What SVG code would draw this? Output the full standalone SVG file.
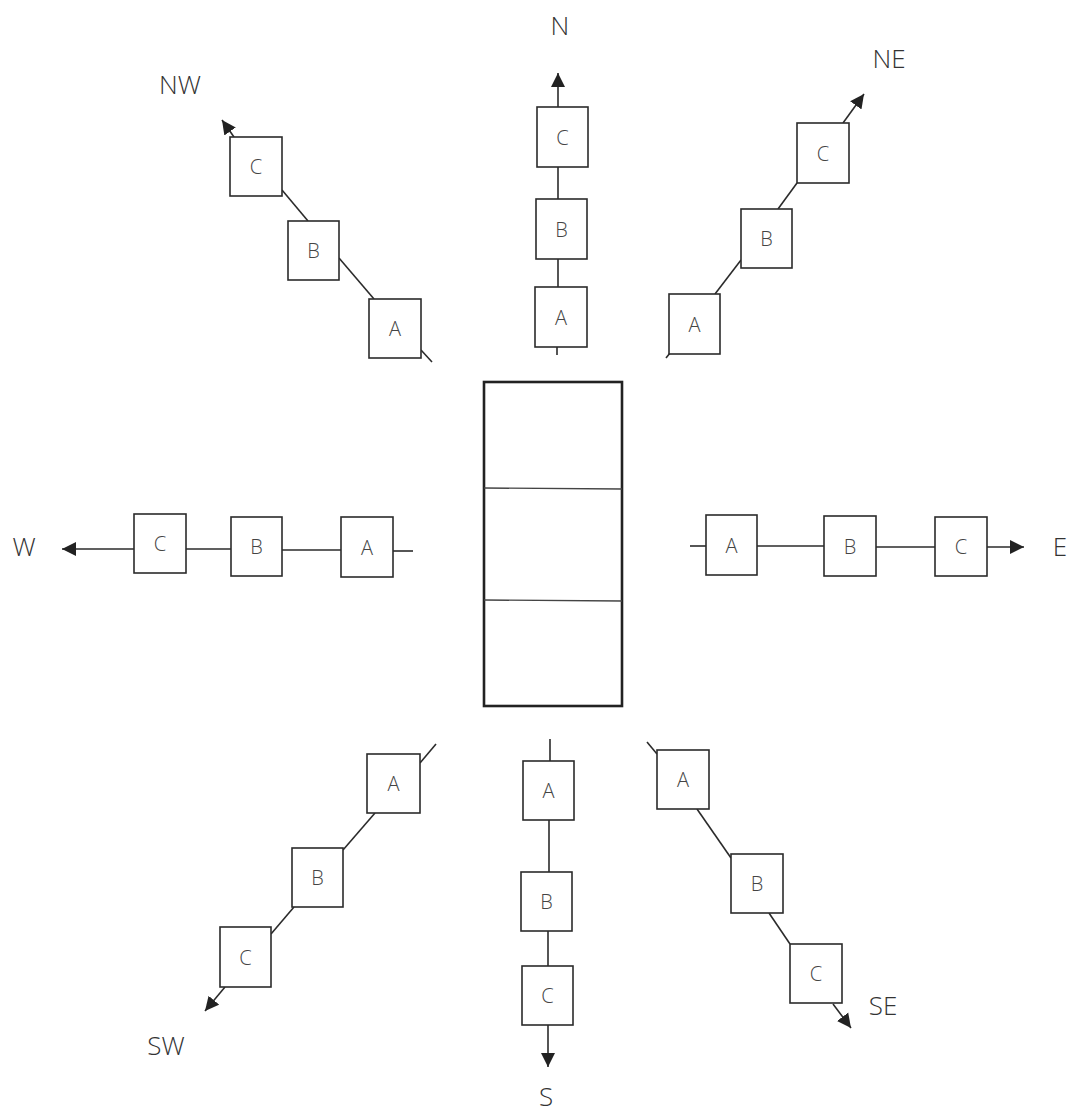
<svg xmlns="http://www.w3.org/2000/svg" width="1067" height="1114" viewBox="0 0 1067 1114">
<defs>
<style>
.box{fill:#fff;stroke:#2b2b2b;stroke-width:1.6}
.lbl{font-family:"Open Sans","Liberation Sans",sans-serif;font-weight:300;font-size:20px;fill:#444;text-anchor:middle;dominant-baseline:central}
.dir{font-family:"Open Sans","Liberation Sans",sans-serif;font-weight:300;font-size:26px;fill:#333;text-anchor:middle}
.ln{stroke:#2b2b2b;stroke-width:1.6;fill:none}
.arr{stroke:#2b2b2b;stroke-width:1.6;fill:none;marker-end:url(#ah)}
.core{fill:#fff;stroke:#222;stroke-width:2.6}
.div{stroke:#444;stroke-width:1.4}
</style>
<marker id="ah" markerUnits="userSpaceOnUse" markerWidth="15" markerHeight="15" refX="14" refY="7" orient="auto" viewBox="0 0 15 14">
<path d="M0,0 L14,7 L0,14 z" fill="#222"/>
</marker>
</defs>
<rect width="1067" height="1114" fill="#fff"/>

<g id="connectors">
<!-- N -->
<line class="ln" x1="557" y1="355" x2="557" y2="347"/>
<line class="ln" x1="558" y1="287" x2="558" y2="259"/>
<line class="ln" x1="558" y1="199" x2="558" y2="167"/>
<line class="arr" x1="558" y1="107" x2="558" y2="73"/>
<!-- NW -->
<line class="ln" x1="432" y1="362" x2="421" y2="350"/>
<line class="ln" x1="374" y1="299" x2="339" y2="258"/>
<line class="ln" x1="308" y1="221" x2="282" y2="190"/>
<line class="arr" x1="234" y1="137" x2="222" y2="120"/>
<!-- NE -->
<line class="ln" x1="666" y1="358" x2="670" y2="353"/>
<line class="ln" x1="715" y1="294" x2="741" y2="260"/>
<line class="ln" x1="778" y1="209" x2="797" y2="183"/>
<line class="arr" x1="843" y1="123" x2="864" y2="94"/>
<!-- W -->
<line class="ln" x1="413" y1="551" x2="393" y2="551"/>
<line class="ln" x1="341" y1="550" x2="282" y2="550"/>
<line class="ln" x1="231" y1="549" x2="186" y2="549"/>
<line class="arr" x1="134" y1="549" x2="62" y2="549"/>
<!-- E -->
<line class="ln" x1="690" y1="546" x2="706" y2="546"/>
<line class="ln" x1="757" y1="546" x2="824" y2="546"/>
<line class="ln" x1="876" y1="547" x2="935" y2="547"/>
<line class="arr" x1="987" y1="547" x2="1024" y2="547"/>
<!-- SW -->
<line class="ln" x1="436" y1="744" x2="420" y2="763"/>
<line class="ln" x1="375" y1="813" x2="343" y2="850"/>
<line class="ln" x1="294" y1="907" x2="271" y2="934"/>
<line class="arr" x1="225" y1="987" x2="205" y2="1011"/>
<!-- S -->
<line class="ln" x1="550" y1="739" x2="550" y2="761"/>
<line class="ln" x1="549" y1="820" x2="549" y2="872"/>
<line class="ln" x1="548" y1="931" x2="548" y2="966"/>
<line class="arr" x1="548" y1="1025" x2="548" y2="1067"/>
<!-- SE -->
<line class="ln" x1="647" y1="742" x2="657" y2="754"/>
<line class="ln" x1="697" y1="809" x2="731" y2="858"/>
<line class="ln" x1="769" y1="913" x2="790" y2="944"/>
<line class="arr" x1="833" y1="1004" x2="851" y2="1028"/>
</g>

<g id="core">
<rect class="core" x="484" y="382" width="138" height="324"/>
<line class="div" x1="484" y1="488" x2="622" y2="489"/>
<line class="div" x1="484" y1="600" x2="622" y2="601"/>
</g>

<g id="N-A"><rect class="box" x="535" y="287" width="52" height="60"/><text class="lbl" x="561" y="317">A</text></g>
<g id="N-B"><rect class="box" x="536" y="199" width="51" height="60"/><text class="lbl" x="561.5" y="229">B</text></g>
<g id="N-C"><rect class="box" x="537" y="107" width="51" height="60"/><text class="lbl" x="562.5" y="137">C</text></g>

<g id="NW-A"><rect class="box" x="369" y="299" width="52" height="59"/><text class="lbl" x="395" y="328.5">A</text></g>
<g id="NW-B"><rect class="box" x="288" y="221" width="51" height="59"/><text class="lbl" x="313.5" y="250.5">B</text></g>
<g id="NW-C"><rect class="box" x="230" y="137" width="52" height="59"/><text class="lbl" x="256" y="166.5">C</text></g>

<g id="NE-A"><rect class="box" x="669" y="294" width="51" height="60"/><text class="lbl" x="694.5" y="324">A</text></g>
<g id="NE-B"><rect class="box" x="741" y="209" width="51" height="59"/><text class="lbl" x="766.5" y="238.5">B</text></g>
<g id="NE-C"><rect class="box" x="797" y="123" width="52" height="60"/><text class="lbl" x="823" y="153">C</text></g>

<g id="W-A"><rect class="box" x="341" y="517" width="52" height="60"/><text class="lbl" x="367" y="547">A</text></g>
<g id="W-B"><rect class="box" x="231" y="517" width="51" height="59"/><text class="lbl" x="256.5" y="546.5">B</text></g>
<g id="W-C"><rect class="box" x="134" y="514" width="52" height="59"/><text class="lbl" x="160" y="543.5">C</text></g>

<g id="E-A"><rect class="box" x="706" y="515" width="51" height="60"/><text class="lbl" x="731.5" y="545">A</text></g>
<g id="E-B"><rect class="box" x="824" y="516" width="52" height="60"/><text class="lbl" x="850" y="546">B</text></g>
<g id="E-C"><rect class="box" x="935" y="517" width="52" height="59"/><text class="lbl" x="961" y="546.5">C</text></g>

<g id="SW-A"><rect class="box" x="367" y="754" width="53" height="59"/><text class="lbl" x="393.5" y="783.5">A</text></g>
<g id="SW-B"><rect class="box" x="292" y="848" width="51" height="59"/><text class="lbl" x="317.5" y="877.5">B</text></g>
<g id="SW-C"><rect class="box" x="220" y="927" width="51" height="60"/><text class="lbl" x="245.5" y="957">C</text></g>

<g id="S-A"><rect class="box" x="523" y="761" width="51" height="59"/><text class="lbl" x="548.5" y="790.5">A</text></g>
<g id="S-B"><rect class="box" x="521" y="872" width="51" height="59"/><text class="lbl" x="546.5" y="901.5">B</text></g>
<g id="S-C"><rect class="box" x="522" y="966" width="51" height="59"/><text class="lbl" x="547.5" y="995.5">C</text></g>

<g id="SE-A"><rect class="box" x="657" y="750" width="52" height="59"/><text class="lbl" x="683" y="779.5">A</text></g>
<g id="SE-B"><rect class="box" x="731" y="854" width="52" height="59"/><text class="lbl" x="757" y="883.5">B</text></g>
<g id="SE-C"><rect class="box" x="790" y="944" width="52" height="59"/><text class="lbl" x="816" y="973.5">C</text></g>

<g id="labels">
<text class="dir" x="560" y="35">N</text>
<text class="dir" x="180" y="94">NW</text>
<text class="dir" x="889" y="68">NE</text>
<text class="dir" x="24" y="556">W</text>
<text class="dir" x="1060" y="556">E</text>
<text class="dir" x="166" y="1055">SW</text>
<text class="dir" x="546" y="1106">S</text>
<text class="dir" x="883" y="1015">SE</text>
</g>
</svg>
